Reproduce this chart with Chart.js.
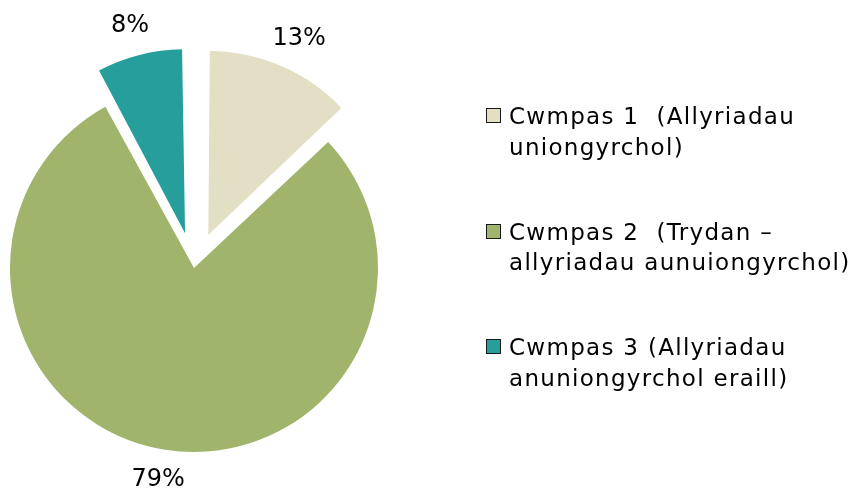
<!DOCTYPE html>
<html>
<head>
<meta charset="utf-8">
<script src="https://cdn.jsdelivr.net/npm/chart.js@4"></script>
<style>
  html,body{margin:0;padding:0;background:#fff;}
  #wrap{position:relative;width:853px;height:491px;}
  #pie{position:absolute;left:0;top:0;}
  #legend{position:absolute;left:486px;top:101px;font-family:'DejaVu Sans',sans-serif;font-size:23px;letter-spacing:1.3px;color:#000;}
  .item{position:relative;padding-left:23px;line-height:30.5px;height:61px;margin-bottom:54.5px;white-space:pre;}
  .box{position:absolute;left:0;top:7px;width:13px;height:13px;border:1.5px solid #1a1a1a;}
</style>
</head>
<body>
<div id="wrap">
  <canvas id="pie" width="853" height="491"></canvas>
  <div id="legend"></div>
</div>
<script>
const labels=[
  ['Cwmpas 1  (Allyriadau','uniongyrchol)'],
  ['Cwmpas 2  (Trydan –','allyriadau aunuiongyrchol)'],
  ['Cwmpas 3 (Allyriadau','anuniongyrchol eraill)']
];
const shares=[13,79,8];
const colors=['#e3dfc5','#a0b46c','#269e9c'];
const explode=[36,0,36]; // px the slice is pulled out
const R=184;

const legend=document.getElementById('legend');
labels.forEach((lines,i)=>{
  const item=document.createElement('div');
  item.className='item';
  const box=document.createElement('span');
  box.className='box';
  box.style.background=colors[i];
  item.appendChild(box);
  item.appendChild(document.createTextNode(lines.join('\n')));
  legend.appendChild(item);
});

// chart.js grows an offset arc's radius; keep every slice at R
const keepRadius={
  id:'keepRadius',
  beforeDatasetsDraw(chart){
    chart.getDatasetMeta(0).data.forEach(arc=>{
      const off=(arc.options.offset||0)/4;
      const fix=1-Math.sin(Math.min(Math.PI,arc.circumference||0));
      arc.outerRadius=R-off*fix;
    });
  }
};

const pctLabels={
  id:'pctLabels',
  afterDatasetsDraw(chart){
    const ctx=chart.ctx;
    const meta=chart.getDatasetMeta(0);
    ctx.save();
    ctx.font='24px "DejaVu Sans", sans-serif';
    ctx.fillStyle='#000';
    ctx.textAlign='center';
    ctx.textBaseline='middle';
    meta.data.forEach((arc,i)=>{
      const mid=(arc.startAngle+arc.endAngle)/2;
      const dx=Math.cos(mid),dy=Math.sin(mid);
      const txt=shares[i]+'%';
      const w=ctx.measureText(txt).width,h=24;
      const d=R+explode[i]+18;
      ctx.fillText(txt,arc.x+dx*d+dx*w/2,arc.y+dy*d+dy*h/2);
    });
    ctx.restore();
  }
};

new Chart(document.getElementById('pie'),{
  type:'pie',
  data:{
    labels:labels.map(l=>l.join(' ')),
    datasets:[{data:shares,backgroundColor:colors,borderWidth:0,offset:explode.map(e=>e*4),hoverOffset:0}]
  },
  options:{
    responsive:false,
    animation:false,
    radius:R,
    layout:{padding:{left:0,right:465,top:45,bottom:0}},
    plugins:{legend:{display:false},tooltip:{enabled:false}}
  },
  plugins:[keepRadius,pctLabels]
});
</script>
</body>
</html>
